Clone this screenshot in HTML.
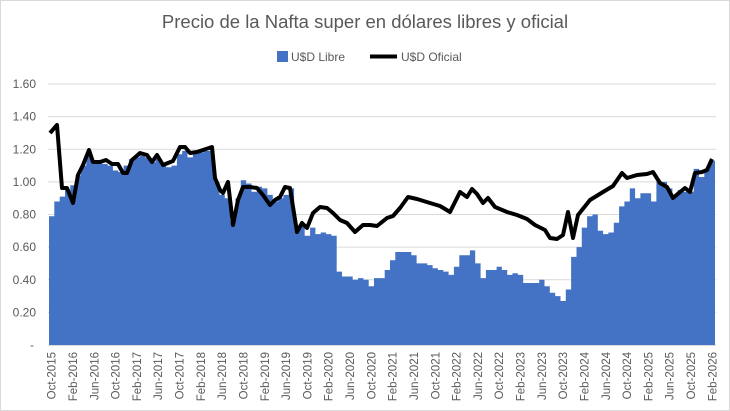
<!DOCTYPE html>
<html><head><meta charset="utf-8"><style>
body{margin:0;background:#fff}
svg{display:block;font-family:"Liberation Sans",Arial,sans-serif}
</style></head><body>
<svg id="c" width="730" height="411" xmlns="http://www.w3.org/2000/svg">
<rect x="0.5" y="0.5" width="729" height="410" fill="#fff" stroke="#d9d9d9"/>
<text x="365" y="28" text-anchor="middle" font-size="18.5" fill="#595959">Precio de la Nafta super en dólares libres y oficial</text>
<rect x="277" y="51" width="11" height="11" fill="#4472c4"/>
<text x="291" y="61" font-size="12" fill="#595959">U$D Libre</text>
<line x1="370" y1="56.5" x2="397" y2="56.5" stroke="#000" stroke-width="4"/>
<text x="401" y="61" font-size="12" fill="#595959">U$D Oficial</text>
<g id="grid"></g><g id="bars"></g><g id="lbl"></g>
<polyline fill="none" stroke="#000" stroke-width="4" stroke-linejoin="round" points="50,133 57,125 62,188 67,188 73,203 78,175 83,165 89,150 93,162 100,162 106,160 112,164 118,164 123,173 127,173 132,160 140,153 147,155 152,162 157,155 163,165 168,163 173,161 180,147 185,147 190,153 197,152 203,150 212,147 215,178 220,190 223,193 228,182 233,225 238,200 243,187 250,187 257,188 263,195 270,205 275,200 280,197 285,187 290,188 297,232 302,223 307,228 313,213 320,207 327,208 333,213 340,220 347,223 355,232 363,225 370,225 377,226 387,218 393,216 400,208 408,197 417,199 430,203 440,206 450,212 460,192 467,197 472,189 477,194 483,203 488,198 495,207 507,212 517,215 527,219 535,225 545,230 550,238 557,239 563,235 568,212 573,238 578,215 590,200 603,192 613,186 622,173 627,178 637,175 647,174 653,172 660,183 667,187 673,198 680,192 685,188 690,192 695,173 702,172 707,170 712,159"/>
</svg>
<script>
var L=[.79,.88,.91,
.95,.98,1.04,1.10,1.17,1.12,1.12,1.11,1.10,1.07,1.06,1.10,
1.14,1.15,1.16,1.15,1.12,1.14,1.10,1.09,1.10,1.17,1.19,1.15,
1.18,1.18,1.19,1.19,1.00,.92,.90,.76,.90,1.01,.99,.94,
.97,.96,.92,.88,.90,.92,.96,.72,.74,.67,.72,.68,
.69,.68,.67,.45,.42,.42,.40,.41,.40,.36,.41,.41,
.46,.52,.57,.57,.57,.55,.50,.50,.49,.47,.46,.45,
.43,.48,.55,.55,.58,.50,.41,.46,.46,.48,.46,.43,
.44,.43,.38,.38,.38,.40,.36,.32,.30,.27,.34,.54,
.60,.72,.79,.80,.70,.68,.69,.75,.85,.88,.96,.90,
.93,.93,.88,1.00,1.00,.96,.92,.95,.94,.94,1.08,1.03,
1.08,1.13];
var ns="http://www.w3.org/2000/svg",x0=49,w=666/125,y0=345,k=163.1;
function el(t,a,p,txt){var e=document.createElementNS(ns,t);for(var n in a)e.setAttribute(n,a[n]);if(txt)e.textContent=txt;document.getElementById(p).appendChild(e);}
var yl=["-","0.20","0.40","0.60","0.80","1.00","1.20","1.40","1.60"];
for(var i=0;i<=8;i++){var y=y0-i*0.2*k;if(i>0)el("line",{x1:48,x2:716,y1:y,y2:y,stroke:"#d9d9d9","stroke-width":1},"grid");
el("text",{x:i==0?34:36,y:y+4,"text-anchor":"end","font-size":12,fill:"#595959"},"lbl",yl[i]);}
el("line",{x1:48,x2:716,y1:y0+0.5,y2:y0+0.5,stroke:"#d9d9d9"},"grid");
var d="M"+x0+","+y0;
for(var i=0;i<L.length;i++){var y=y0-L[i]*k;d+=" V"+y.toFixed(1)+" H"+(x0+w*(i+1)).toFixed(1);}
d+=" V"+y0+" Z";el("path",{d:d,fill:"#4472c4"},"bars");
var m=["Feb","Jun","Oct"];
for(var i=0;i<125;i+=4){var mo=(9+i)%12,yr=2015+Math.floor((9+i)/12);var nm=mo==1?"Feb":mo==5?"Jun":"Oct";
var x=x0+w*(i+0.5)+4;el("text",{x:0,y:0,transform:"translate("+x.toFixed(1)+",352) rotate(-90)","text-anchor":"end","font-size":11.5,fill:"#595959"},"lbl",nm+"-"+yr);}
</script>
</body></html>
